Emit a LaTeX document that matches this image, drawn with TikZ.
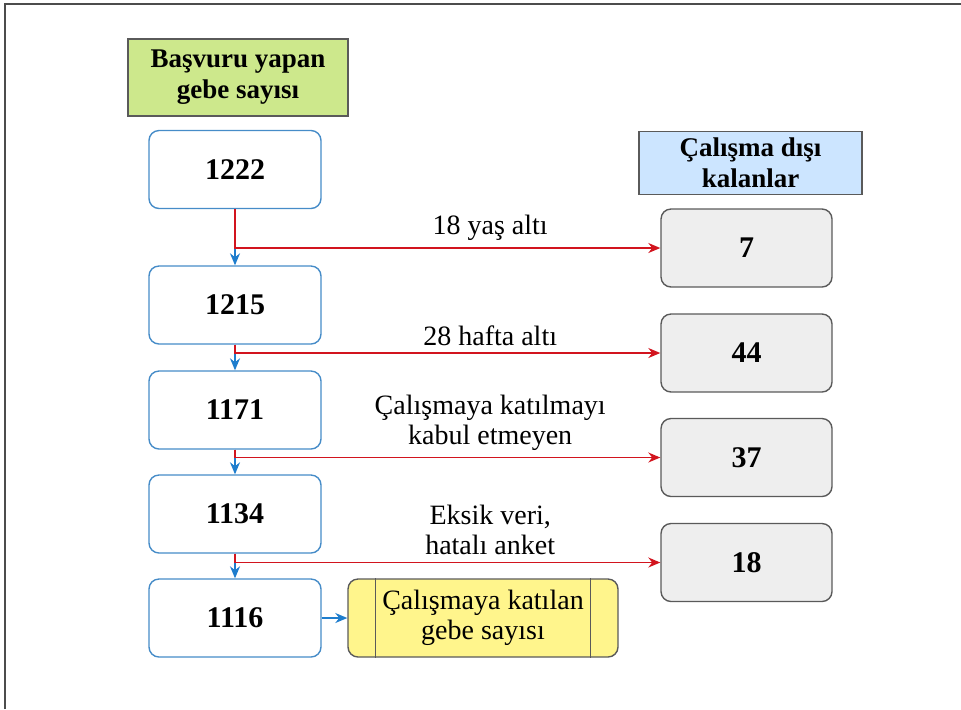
\documentclass[tikz,border=0pt]{standalone}
\usepackage{fontspec}
\setmainfont{Liberation Serif}
\usetikzlibrary{arrows.meta}

\definecolor{boxblue}{RGB}{70,140,200}
\definecolor{arrowblue}{RGB}{30,125,205}
\definecolor{linered}{RGB}{210,20,30}
\definecolor{headgreen}{RGB}{205,232,140}
\definecolor{headblue}{RGB}{204,229,255}
\definecolor{exclgray}{RGB}{238,238,238}
\definecolor{edgegray}{RGB}{90,90,90}
\definecolor{inclyellow}{RGB}{255,245,140}

\begin{document}
\begin{tikzpicture}[x=0.5pt, y=-0.5pt,
    font=\fontsize{14}{15}\selectfont,
    countbox/.style={draw=boxblue, fill=white, rounded corners=5pt, line width=0.7pt,
        minimum width=86pt, minimum height=39pt, font=\fontsize{15}{16}\selectfont\bfseries},
    outbox/.style={draw=edgegray, fill=exclgray, rounded corners=5pt, line width=0.7pt,
        minimum width=85.5pt, minimum height=39pt, font=\fontsize{15}{16}\selectfont\bfseries},
    headbox/.style={draw=edgegray, line width=0.7pt, align=center,
        font=\fontsize{13.5}{15.5}\selectfont\bfseries},
    flow/.style={draw=arrowblue, line width=0.75pt, -{Stealth[length=6pt,width=5pt]}},
    drop/.style={draw=linered, line width=0.75pt, -{Stealth[length=6pt,width=5pt]}}
]
    \useasboundingbox (0,0) rectangle (961,709);
    \draw[gray!60!black, line width=1pt] (5,709) -- (5,4) -- (961,4);

    % headers
    \node[headbox, fill=headgreen, minimum width=110pt, minimum height=38.5pt] (basvuru) at (238,77.5) {Başvuru yapan\\gebe sayısı};
    \node[headbox, fill=headblue, minimum width=111.5pt, minimum height=28pt] (disi) at (750.5,163) {Çalışma dışı\\kalanlar};

    % main column
    \node[countbox] (n1222) at (235,169.5) {1222};
    \node[countbox] (n1215) at (235,305) {1215};
    \node[countbox] (n1171) at (235,410) {1171};
    \node[countbox] (n1134) at (235,514) {1134};
    \node[countbox] (n1116) at (235,618) {1116};

    % excluded
    \node[outbox] (out7) at (746.5,248) {7};
    \node[outbox] (out44) at (746.5,353) {44};
    \node[outbox] (out37) at (746.5,457.5) {37};
    \node[outbox] (out18) at (746.5,562.5) {18};

    % included
    \node[draw=edgegray, fill=inclyellow, rounded corners=5pt, line width=0.7pt, align=center,
        minimum width=135pt, minimum height=39pt] (katilan) at (483,618) {Çalışmaya katılan\\gebe sayısı};
    \draw[edgegray, line width=0.7pt] ([xshift=14pt]katilan.north west) -- ([xshift=14pt]katilan.south west);
    \draw[edgegray, line width=0.7pt] ([xshift=-14pt]katilan.north east) -- ([xshift=-14pt]katilan.south east);

    \draw[flow] (n1222) -- (n1215);
    \draw[flow] (n1215) -- (n1171);
    \draw[flow] (n1171) -- (n1134);
    \draw[flow] (n1134) -- (n1116);
    \draw[flow] (n1116) -- (katilan);

    \draw[drop] (n1222.south) |- node[above, pos=0.8, black] {18 yaş altı} (out7.west);
    \draw[drop] (n1215.south) |- node[above, pos=0.8, black] {28 hafta altı} (out44.west);
    \draw[drop] (n1171.south) |- node[above, pos=0.8, black, align=center] {Çalışmaya katılmayı\\kabul etmeyen} (out37.west);
    \draw[drop] (n1134.south) |- node[above, pos=0.8, black, align=center] {Eksik veri,\\hatalı anket} (out18.west);
\end{tikzpicture}
\end{document}
